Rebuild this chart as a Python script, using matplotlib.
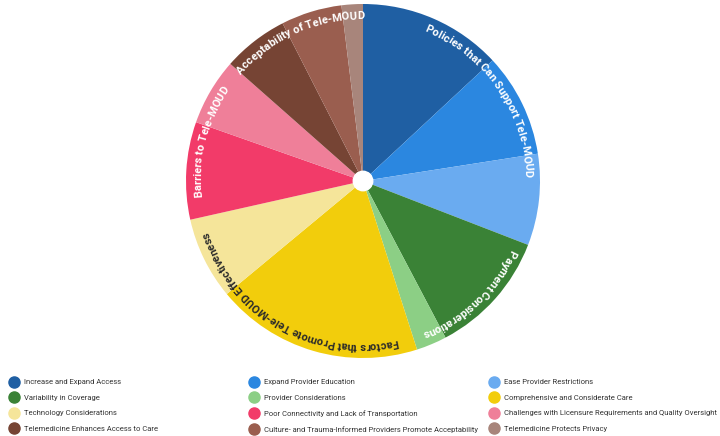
import numpy as np
import matplotlib
matplotlib.use("Agg")
import matplotlib.pyplot as plt
from matplotlib.font_manager import FontProperties, findfont, get_font
from matplotlib.lines import Line2D

DPI = 100

themes = [
    "Increase and Expand Access",
    "Expand Provider Education",
    "Ease Provider Restrictions",
    "Variability in Coverage",
    "Provider Considerations",
    "Comprehensive and Considerate Care",
    "Technology Considerations",
    "Poor Connectivity and Lack of Transportation",
    "Challenges with Licensure Requirements and Quality Oversight",
    "Telemedicine Enhances Access to Care",
    "Culture- and Trauma-Informed Providers Promote Acceptability",
    "Telemedicine Protects Privacy",
]
values = [47, 34, 30, 41, 10, 68, 27, 32, 22, 21.5, 20, 7]
colors = ["#1f5fa3", "#2b87e0", "#6aabf0", "#3a8236", "#8ccf85", "#f2cd0c",
          "#f5e59a", "#f23b69", "#ef7f99", "#764434", "#9a5e4f", "#a8857b"]

groups = ["Policies that Can Support Tele-MOUD", "Payment Considerations",
          "Factors that Promote Tele-MOUD Effectiveness", "Barriers to Tele-MOUD",
          "Acceptability of Tele-MOUD"]
group_sizes = [3, 2, 2, 2, 3]
group_text_colors = ["white", "white", "#2a2a2a", "white", "white"]

FONT = ["Roboto", "DejaVu Sans"]
R_PX = 177


def advances(text, fp):
    # unhinted glyph advances in pixels
    font = get_font(findfont(fp))
    font.set_size(fp.get_size_in_points(), DPI)
    return [font.load_char(ord(ch)).linearHoriAdvance / 65536 for ch in text]


def curved_label(ax, text, mid_deg, r, fp, color, track=1.0):
    adv = np.array(advances(text, fp)) * track
    cum = np.concatenate([[0], np.cumsum(adv)[:-1]])
    total = adv.sum()
    r_px = r * R_PX
    for ch, c0, a in zip(text, cum, adv):
        th = mid_deg + np.degrees((c0 + a / 2 - total / 2) / r_px)
        x = r * np.sin(np.radians(th))
        y = r * np.cos(np.radians(th))
        ax.text(x, y, ch, rotation=-th, ha="center", va="baseline",
                rotation_mode="anchor", fontproperties=fp, color=color)


fig = plt.figure(figsize=(7.2, 4.36), dpi=DPI)
ax = fig.add_axes([(363 - R_PX) / 720, (255 - R_PX) / 436, 2 * R_PX / 720, 2 * R_PX / 436])

ax.pie(values, colors=colors, startangle=90, counterclock=False, radius=1,
       wedgeprops=dict(linewidth=0))
ax.add_patch(plt.Circle((0, 0), 0.055, color="white", zorder=3))
ax.set_xlim(-1, 1)
ax.set_ylim(-1, 1)
ax.set_aspect("auto")
ax.axis("off")

# group labels along the rim
edges = np.concatenate([[0], np.cumsum(values)]) / sum(values) * 360
fp_arc = FontProperties(family=FONT, weight="bold", size=8)
start = 0
for name, n, col in zip(groups, group_sizes, group_text_colors):
    mid = (edges[start] + edges[start + n]) / 2
    curved_label(ax, name, mid, 0.915, fp_arc, col)
    start += n

# legend, three columns read row by row
fs = 5.5
col_x = [10 / 720, 250 / 720, 490 / 720]
for c in range(3):
    idx = list(range(c, len(themes), 3))
    handles = [Line2D([], [], marker="o", linestyle="none", markersize=8,
                      markerfacecolor=colors[i], markeredgecolor=colors[i]) for i in idx]
    leg = fig.legend(handles, [themes[i] for i in idx], loc="upper left",
                     bbox_to_anchor=(col_x[c], 1 - 379 / 436), frameon=False,
                     borderpad=0, borderaxespad=0, handlelength=1.0,
                     handletextpad=0.8, labelspacing=1.2,
                     prop=FontProperties(family=FONT, size=fs))
    for t in leg.get_texts():
        t.set_color("#333333")

fig.savefig("out.png", dpi=DPI)
